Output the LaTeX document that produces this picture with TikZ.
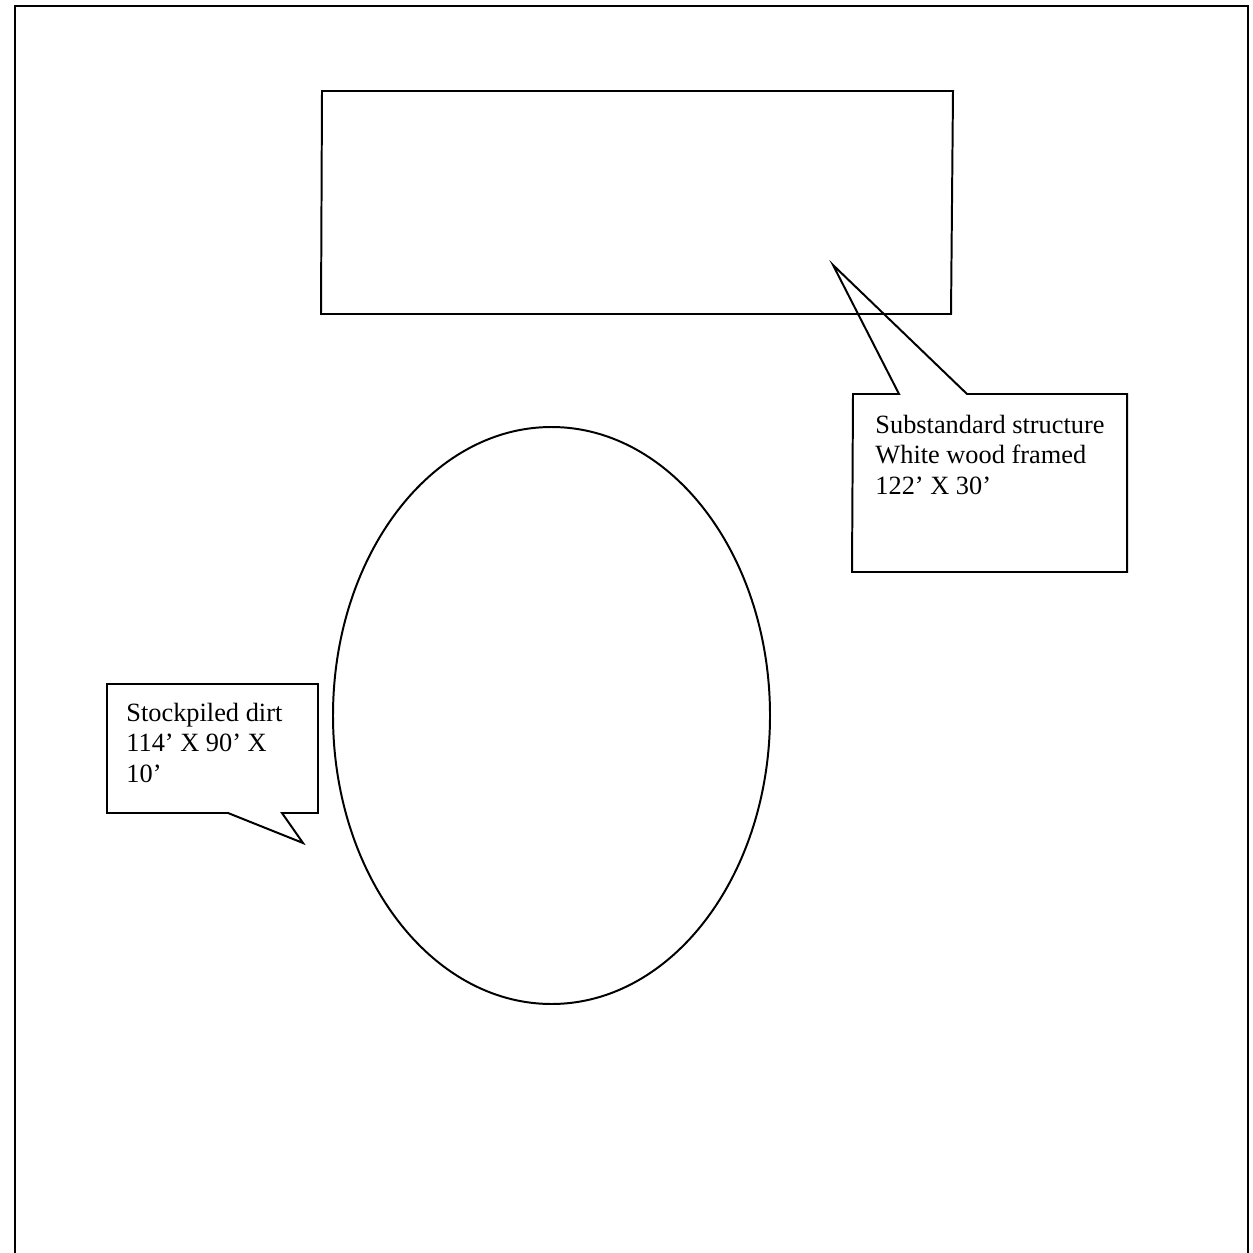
\documentclass[tikz,border=0pt]{standalone}
\usepackage{fontspec}
\setmainfont{Liberation Serif}
\usetikzlibrary{positioning}
\tikzset{outline/.style={line width=0.9pt, line join=miter},
  label_text/.style={align=left, inner sep=0pt, anchor=base west, font=\fontsize{12}{13.8}\selectfont}}

\begin{document}
\begin{tikzpicture}[x=0.016cm, y=-0.016cm]
        \useasboundingbox (0,0) rectangle (1253,1253);
        % page frame, open at the bottom
        \draw[outline] (15,1253) -- (15,6) -- (1248,6) -- (1248,1253);
        % structure and dirt pile
        \draw[outline] (322,91) -- (953,91) -- (951,314) -- (321,314) -- cycle;
        \draw[outline] (551.5,715.5) ellipse [x radius=218.5, y radius=288.5];
        % callouts
        \coordinate (structure_tip) at (833,265);
        \coordinate (dirt_tip) at (303,843);
        \draw[outline] (853,394) -- (899,394) -- (structure_tip) -- (967,394) -- (1127,394)
          -- (1127,572) -- (852,572) -- cycle;
        \draw[outline] (107,684) -- (318,684) -- (318,813) -- (282,813) -- (dirt_tip)
          -- (228,813) -- (107,813) -- cycle;
        % base anchor sits on the last line
        \node[label_text] (structure_label) at (875,494) {Substandard structure\\White wood framed\\122’ X 30’};
        \node[label_text] (dirt_label) at (126,782) {Stockpiled dirt\\114’ X 90’ X\\10’};
      \end{tikzpicture}
\end{document}
